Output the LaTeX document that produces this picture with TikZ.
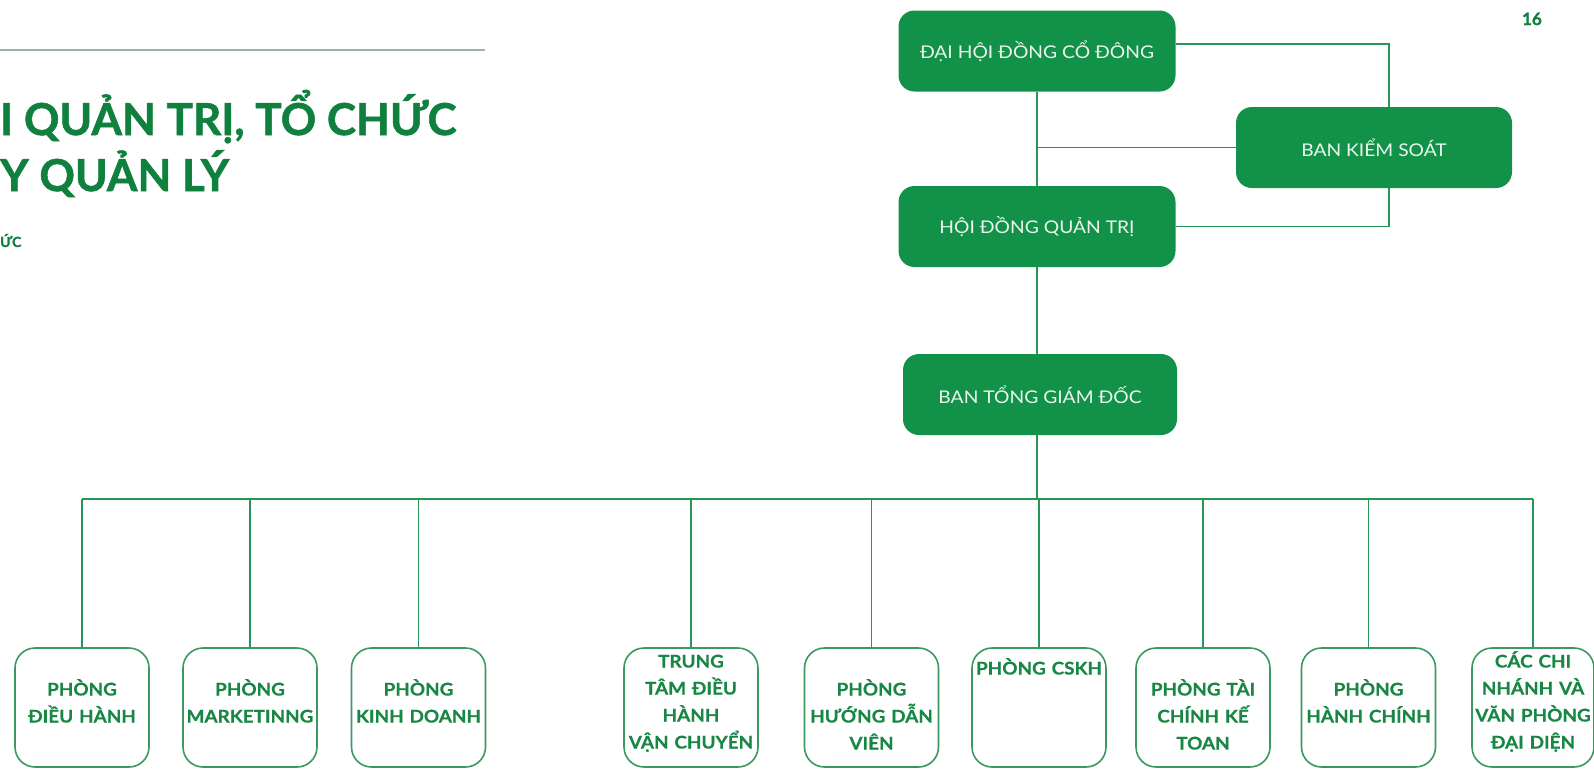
\documentclass[tikz,border=0pt]{standalone}
\usepackage{fontspec}
\setmainfont{Lato}
\newfontfamily\boardfont{Lato}[FakeStretch=1.1]
\newfontfamily\deptfont{Lato}[FakeStretch=1.08,FakeBold=0.6]
\newfontfamily\headfont{Lato}[FakeBold=1.2]
\usetikzlibrary{positioning}
\definecolor{boxgreen}{RGB}{18,146,72}
\definecolor{linegreen}{RGB}{38,150,88}
\definecolor{titlegreen}{RGB}{16,128,62}
\definecolor{deptgreen}{RGB}{24,134,68}
\definecolor{rulegray}{RGB}{150,180,168}
\definecolor{boxtext}{RGB}{236,246,239}
\begin{document}
\begin{tikzpicture}[x=1pt,y=-1pt,
        board/.style={rectangle,rounded corners=16pt,fill=boxgreen,text=boxtext,
          minimum width=277pt,minimum height=81pt,inner sep=0pt,
          font=\boardfont\fontsize{17.5}{20}\selectfont},
        dept/.style={rectangle,rounded corners=20pt,draw=deptgreen!85,line width=1.6pt,
          text=deptgreen,minimum width=134pt,minimum height=119pt,inner sep=0pt,
          text width=132pt,align=center,
          font=\deptfont\bfseries\fontsize{17.5}{27}\selectfont,
          text height=12.5pt,text depth=#1},
        dept/.default=36.5pt,
        link/.style={draw=linegreen,line width=1.6pt}]
      \useasboundingbox (0,0) rectangle (1594,769);
      % heading
      \draw[rulegray,line width=1.8pt] (0,50) -- (485,50);
      \node (title1) at (0,135) [anchor=base west,inner sep=0pt,text=titlegreen,
        font=\headfont\bfseries\fontsize{44}{56}\selectfont] {I QUẢN TRỊ, TỔ CHỨC};
      \node (title2) at (0,191) [anchor=base west,inner sep=0pt,text=titlegreen,
        font=\headfont\bfseries\fontsize{44}{56}\selectfont] {Y QUẢN LÝ};
      \node (sub) at (0,247) [anchor=base west,inner sep=0pt,text=titlegreen,
        font=\headfont\bfseries\fontsize{14}{16}\selectfont] {ỨC};
      \node (page) at (1542,25) [anchor=base east,inner sep=0pt,text=titlegreen,
        font=\headfont\bfseries\fontsize{17}{20}\selectfont] {16};
      % board
      \node (dhdcd) at (1037,51) [board] {ĐẠI HỘI ĐỒNG CỔ ĐÔNG};
      \node (bks) at (1374,147.5) [board,minimum width=276pt] {BAN KIỂM SOÁT};
      \node (hdqt) at (1037,226.5) [board] {HỘI ĐỒNG QUẢN TRỊ};
      \node (btgd) at (1040,394.5) [board,minimum width=274pt] {BAN TỔNG GIÁM ĐỐC};
      \coordinate (bus) at (0,499);
      % departments
      \node (pdh) at (82,707.5) [dept] {PHÒNG\\ĐIỀU HÀNH};
      \node (pmk) at (250,707.5) [dept] {PHÒNG\\MARKETINNG};
      \node (pkd) at (418.5,707.5) [dept] {PHÒNG\\KINH DOANH};
      \node (ttdh) at (691,707.5) [dept=92.5pt] {TRUNG\\TÂM ĐIỀU\\HÀNH\\VẬN CHUYỂN};
      \node (phd) at (871.5,707.5) [dept] {PHÒNG\\HƯỚNG DẪN\\VIÊN};
      \node (cskh) at (1039,707.5) [dept=78.5pt] {PHÒNG CSKH};
      \node (ptc) at (1203,707.5) [dept] {PHÒNG TÀI\\CHÍNH KẾ\\TOAN};
      \node (phc) at (1368.5,707.5) [dept] {PHÒNG\\HÀNH CHÍNH};
      \node (cn) at (1533,707.5) [dept=92.5pt,minimum width=122pt,text width=120pt]
        {CÁC CHI\\NHÁNH VÀ\\VĂN PHÒNG\\ĐẠI DIỆN};
      % links
      \draw[link] (dhdcd.south) -- (hdqt.north);
      \draw[link] ([yshift=7pt]dhdcd.east) -| ([xshift=15pt]bks.north);
      \draw[link] (bks.west) -- (bks.west -| dhdcd.south);
      \draw[link] ([xshift=15pt]bks.south) |- (hdqt.east);
      \draw[link] (hdqt.south) -- (hdqt.south |- btgd.north);
      \draw[link] (hdqt.south |- btgd.south) -- (hdqt.south |- bus);
      \draw[link] (pdh.north |- bus) -- (cn.north |- bus);
      \foreach \d in {pdh,pmk,pkd,ttdh,phd,cskh,ptc,phc,cn}
        \draw[link] (\d.north) -- (\d.north |- bus);
\end{tikzpicture}
\end{document}
